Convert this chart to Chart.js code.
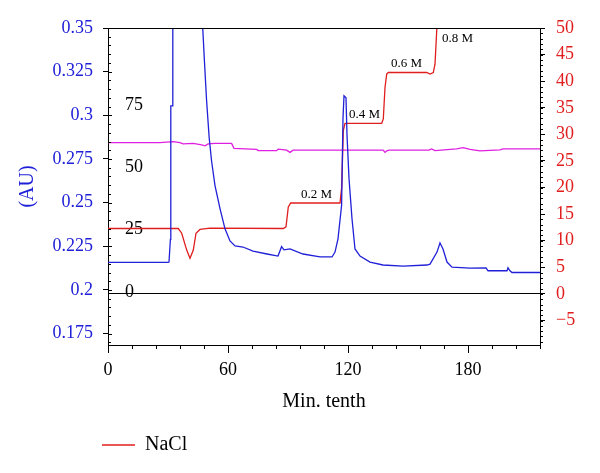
<!DOCTYPE html>
<html lang="en">
<head>
<meta charset="utf-8">
<script src="https://cdn.jsdelivr.net/npm/chart.js@4.4.0/dist/chart.umd.min.js"></script>
<style>
  html, body { margin: 0; padding: 0; background: #fff; }
  .box { width: 600px; height: 473px; }
</style>
</head>
<body>
<div class="box"><canvas id="myChart"></canvas></div>
<script>
// absorbance (left axis, AU)
var absTime = [0, 30, 30.5, 31.2, 31.4, 32.2, 32.4, 46.5, 47.3, 48.2, 49.3, 50.6, 51.8, 53.5, 56, 58.5, 61, 63.5, 67.5, 72.5,
    79.5, 85, 86.8, 88, 91, 97.5, 106, 112, 113.5, 115, 116.8, 117.5, 118, 119, 119.5, 120.5, 122, 123.5, 126, 131,
    137.5, 147.5, 159.5, 161, 164.5, 166, 167.5, 169.5, 172, 181, 189, 190, 199.5, 200, 201, 202, 216];
var absValue = [0.2158, 0.2158, 0.2160, 0.2290, 0.3054, 0.3054, 0.40, 0.40, 0.3514, 0.3314, 0.3083, 0.2870, 0.2737, 0.2598, 0.2466, 0.2350, 0.2281, 0.2252, 0.2246, 0.2223,
    0.2206, 0.2194, 0.2248, 0.2230, 0.2235, 0.2206, 0.2189, 0.2189, 0.2217, 0.2293, 0.2485, 0.2985, 0.3112, 0.3100, 0.2887, 0.2639, 0.2408, 0.2235, 0.2194, 0.2160,
    0.2143, 0.2137, 0.2143, 0.2148, 0.2217, 0.2269, 0.2235, 0.2160, 0.2131, 0.2125, 0.2127, 0.2110, 0.2110, 0.2127, 0.2110, 0.2100, 0.2100];

// NaCl gradient (right axis)
var naclTime = [0, 35.15, 36.85, 39.35, 41, 42.65, 44, 46, 51, 87.65, 89, 90.15, 91.35, 116, 116.85, 117.65, 118.5, 136.85, 137.65, 138.5,
    139.35, 140.15, 159.35, 161, 162.65, 163.5, 164.35, 164.85];
var naclValue = [12.3, 12.3, 11.42, 8.24, 6.69, 8.24, 11.42, 12.12, 12.36, 12.3, 12.6, 16.35, 17.1, 17.1, 20.09, 30.71, 32.08, 32.08, 32.9, 38.82,
    41.33, 41.63, 41.63, 41.33, 41.63, 43.2, 49.44, 52];

// conductivity (inner axis 0-75)
var condTime = [0, 26, 32.6, 36, 37.6, 42.6, 46.8, 48.5, 50.1, 53.5, 61.8, 63, 74.3, 75.1, 84.3, 85.1, 89.3, 91, 92.6, 137.6,
    138.5, 139.4, 140.5, 160.5, 161.8, 163.5, 174.3, 177.6, 181, 186, 196, 197.5, 216];
var condValue = [59.9, 59.9, 60.3, 59.9, 59.4, 59.6, 59.0, 58.6, 59.4, 59.6, 59.6, 57.6, 57.2, 56.7, 56.7, 57.3, 56.9, 56.0, 56.9, 56.9,
    56.0, 56.6, 56.9, 56.9, 57.4, 56.7, 57.4, 57.9, 57.2, 56.6, 57.0, 57.4, 57.4];

// step labels
var stepText = ['0.2 M', '0.4 M', '0.6 M', '0.8 M'];
var stepTime = [104.3, 128.3, 149.3, 174.8];
var stepLevel = [18.7, 33.7, 43.3, 48.1];

// tick labels
var xTicks = [0, 60, 120, 180];
var leftTicks = [0.175, 0.2, 0.225, 0.25, 0.275, 0.3, 0.325, 0.35];
var rightTicks = [-5, 0, 5, 10, 15, 20, 25, 30, 35, 40, 45, 50];
var innerTicks = [0, 25, 50, 75];

var BLUE = '#2020d8';
var RED = '#e01e1e';
var PINK = '#e020e0';

function pairs(ts, vs) {
    return ts.map(function(t, i) { return {x: t, y: vs[i]}; });
}
function setTicks(list) {
    return function(scale) {
        scale.ticks = list.map(function(v) { return {value: v}; });
    };
}

Chart.defaults.font.family = '"Liberation Serif", "DejaVu Serif", serif';
Chart.defaults.color = '#000';
Chart.defaults.animation = false;

// frame top line + minor ticks, legend shift
var framePlugin = {
    id: 'frame',
    afterLayout: function(chart) {
        chart.legend.left = 82;
    },
    afterDraw: function(chart) {
        var ctx = chart.ctx, a = chart.chartArea, s = chart.scales;
        var i, p;
        ctx.save();
        ctx.strokeStyle = '#000';
        ctx.lineWidth = 1;
        ctx.beginPath();
        ctx.moveTo(a.left, a.top + 0.5);
        ctx.lineTo(a.right, a.top + 0.5);
        for (i = 34; i <= 70; i++) {
            p = Math.round(s.y.getPixelForValue(i * 0.005)) + 0.5;
            ctx.moveTo(a.left, p);
            ctx.lineTo(a.left + (i % 5 === 0 ? 4 : 3), p);
        }
        for (i = -9; i <= 50; i++) {
            p = Math.round(s.y2.getPixelForValue(i)) + 0.5;
            ctx.moveTo(a.right, p);
            ctx.lineTo(a.right + 3, p);
        }
        for (i = 0; i <= 216; i += 12) {
            p = Math.round(s.x.getPixelForValue(i)) + 0.5;
            ctx.moveTo(p, a.bottom);
            ctx.lineTo(p, a.bottom + 4);
        }
        ctx.stroke();
        ctx.restore();
    },
    afterDatasetsDraw: function(chart) {
        var ctx = chart.ctx, s = chart.scales;
        ctx.save();
        ctx.font = '13px "Liberation Serif", serif';
        ctx.fillStyle = '#000';
        ctx.textAlign = 'center';
        ctx.textBaseline = 'middle';
        stepText.forEach(function(t, i) {
            ctx.fillText(t, s.x.getPixelForValue(stepTime[i]), s.y2.getPixelForValue(stepLevel[i]));
        });
        ctx.restore();
    }
};

var ctx = document.getElementById('myChart').getContext('2d');
var myChart = new Chart(ctx, {
    type: 'line',
    data: {
        datasets: [{
            label: 'Absorbance',
            data: pairs(absTime, absValue),
            yAxisID: 'y',
            borderColor: BLUE,
            borderWidth: 1.3
        }, {
            label: 'NaCl',
            data: pairs(naclTime, naclValue),
            yAxisID: 'y2',
            borderColor: RED,
            borderWidth: 1.3
        }, {
            label: 'Conductivity',
            data: pairs(condTime, condValue),
            yAxisID: 'y3',
            borderColor: PINK,
            borderWidth: 1.3
        }]
    },
    options: {
        responsive: true,
        maintainAspectRatio: false,
        layout: { padding: { top: 28, right: 0, bottom: 8, left: 0 } },
        elements: {
            point: { radius: 0, hitRadius: 0 },
            line: { tension: 0 }
        },
        scales: {
            x: {
                type: 'linear',
                min: 0,
                max: 216,
                afterBuildTicks: setTicks(xTicks),
                afterFit: function(s) { s.height = 70; },
                ticks: { font: { size: 18 }, padding: 6, color: '#000' },
                grid: { drawOnChartArea: false, tickLength: 8, color: '#000' },
                border: { color: '#000' },
                title: { display: true, text: 'Min. tenth', font: { size: 20 }, padding: { top: 0, bottom: 1 }, color: '#000' }
            },
            y: {
                position: 'left',
                weight: 10,
                min: 0.1685,
                max: 0.35,
                afterBuildTicks: setTicks(leftTicks),
                afterFit: function(s) { s.width = 108; },
                ticks: {
                    font: { size: 18 }, padding: 10, color: BLUE,
                    callback: function(v) { return String(parseFloat(v.toFixed(3))); }
                },
                grid: { drawOnChartArea: false, tickLength: 5, color: '#000' },
                border: { color: '#000' },
                title: { display: true, text: '(AU)', font: { size: 20 }, padding: { top: 16, bottom: 0 }, color: BLUE }
            },
            y3: {
                position: 'left',
                weight: 0,
                min: -21.3,
                max: 105.9,
                afterBuildTicks: setTicks(innerTicks),
                afterFit: function(s) { s.width = 0; },
                ticks: { mirror: true, padding: 17, font: { size: 18 }, color: '#000' },
                grid: { display: false },
                border: { display: false }
            },
            y2: {
                position: 'right',
                min: -9.6,
                max: 50,
                afterBuildTicks: setTicks(rightTicks),
                afterFit: function(s) { s.width = 60; },
                ticks: {
                    font: { size: 18 }, padding: 11, color: RED,
                    callback: function(v) { return v < 0 ? '\u2212' + Math.abs(v) : String(v); }
                },
                grid: {
                    drawOnChartArea: true,
                    tickLength: 5,
                    tickColor: '#000',
                    color: function(c) { return c.tick && c.tick.value === 0 ? '#000' : 'rgba(0,0,0,0)'; }
                },
                border: { color: '#000' }
            }
        },
        plugins: {
            legend: {
                position: 'bottom',
                align: 'start',
                labels: {
                    filter: function(item) { return item.text === 'NaCl'; },
                    usePointStyle: true,
                    pointStyle: 'line',
                    pointStyleWidth: 33,
                    padding: 20,
                    font: { size: 20 },
                    color: '#000'
                }
            },
            tooltip: { enabled: false }
        }
    },
    plugins: [framePlugin]
});
</script>
</body>
</html>
